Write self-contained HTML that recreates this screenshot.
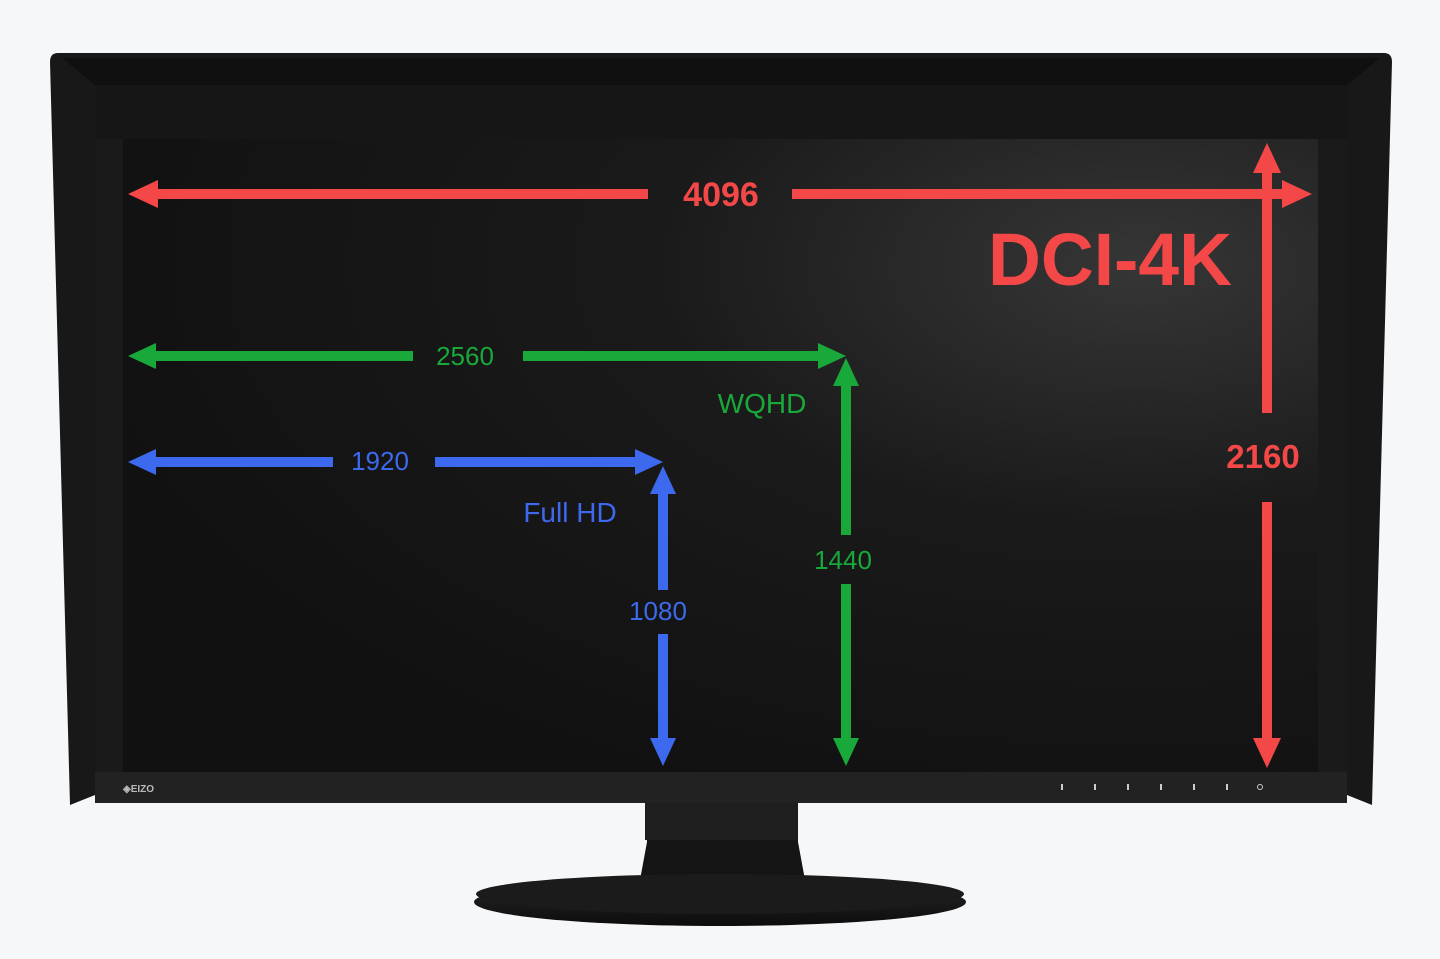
<!DOCTYPE html>
<html><head><meta charset="utf-8"><style>
html,body{margin:0;padding:0;background:#f6f7f9;}
svg{display:block}
text{font-family:"Liberation Sans",sans-serif;}
</style></head><body>
<svg width="1440" height="959" viewBox="0 0 1440 959" xmlns="http://www.w3.org/2000/svg">
<defs>
<radialGradient id="scr" cx="0.85" cy="0.2" r="0.9">
<stop offset="0" stop-color="#363636"/><stop offset="0.45" stop-color="#1a1a1a"/><stop offset="1" stop-color="#111"/>
</radialGradient>
<linearGradient id="base" x1="0" y1="0" x2="0" y2="1">
<stop offset="0" stop-color="#2a2a2a"/><stop offset="1" stop-color="#0c0c0c"/>
</linearGradient>
</defs>
<path d="M645 800 L798 800 L798 842 L805 880 L640 880 L647 842 Z" fill="#141414"/>
<rect x="645" y="800" width="153" height="40" fill="#1e1e1e"/>
<ellipse cx="720" cy="902" rx="246" ry="24" fill="url(#base)"/>
<ellipse cx="720" cy="894" rx="244" ry="20" fill="#1b1b1b"/>
<path d="M58 53 L1384 53 Q1392 53 1392 62 L1372 805 L1347 795 L1347 85 L95 85 L95 795 L70 805 L50 62 Q50 53 58 53 Z" fill="#181818"/>
<path d="M62 58 L1380 58 L1347 85 L95 85 Z" fill="#101010"/>
<rect x="95" y="85" width="1252" height="718" fill="#1a1a1a"/>
<rect x="95" y="85" width="1252" height="54" fill="#161616"/>
<rect x="95" y="772" width="1252" height="31" fill="#222"/>
<rect x="123" y="139" width="1195" height="633" fill="url(#scr)"/>
<text x="123" y="792" font-size="10" fill="#bbb" font-weight="bold">◈EIZO</text>
<g fill="#ccc"><rect x="1061" y="784" width="2" height="6"/><rect x="1094" y="784" width="2" height="6"/><rect x="1127" y="784" width="2" height="6"/><rect x="1160" y="784" width="2" height="6"/><rect x="1193" y="784" width="2" height="6"/><rect x="1226" y="784" width="2" height="6"/></g>
<circle cx="1260" cy="787" r="2.5" fill="none" stroke="#ccc" stroke-width="1"/>
<g fill="#f44848">
<rect x="150" y="189" width="498" height="10"/><polygon points="128,194 158,180 158,208"/>
<rect x="792" y="189" width="498" height="10"/><polygon points="1312,194 1282,180 1282,208"/>
<rect x="1262" y="170" width="10" height="243"/><polygon points="1267,143 1253,173 1281,173"/>
<rect x="1262" y="502" width="10" height="240"/><polygon points="1267,768 1253,738 1281,738"/>
</g>
<text x="721" y="206" font-size="34" font-weight="bold" fill="#f44848" text-anchor="middle">4096</text>
<text x="1110" y="285" font-size="74" font-weight="bold" fill="#f44848" text-anchor="middle" textLength="244" lengthAdjust="spacingAndGlyphs">DCI-4K</text>
<text x="1263" y="468" font-size="33" font-weight="bold" fill="#f44848" text-anchor="middle">2160</text>
<g fill="#19a83a">
<rect x="150" y="351" width="263" height="10"/><polygon points="128,356 156,343 156,369"/>
<rect x="523" y="351" width="298" height="10"/><polygon points="846,356 818,343 818,369"/>
<rect x="841" y="384" width="10" height="151"/><polygon points="846,358 833,386 859,386"/>
<rect x="841" y="584" width="10" height="158"/><polygon points="846,766 833,738 859,738"/>
</g>
<text x="465" y="365" font-size="26" fill="#19a83a" text-anchor="middle">2560</text>
<text x="762" y="413" font-size="28" fill="#19a83a" text-anchor="middle">WQHD</text>
<text x="843" y="569" font-size="26" fill="#19a83a" text-anchor="middle">1440</text>
<g fill="#3c69ee">
<rect x="150" y="457" width="183" height="10"/><polygon points="128,462 156,449 156,475"/>
<rect x="435" y="457" width="203" height="10"/><polygon points="663,462 635,449 635,475"/>
<rect x="658" y="492" width="10" height="98"/><polygon points="663,466 650,494 676,494"/>
<rect x="658" y="634" width="10" height="108"/><polygon points="663,766 650,738 676,738"/>
</g>
<text x="380" y="470" font-size="26" fill="#3c69ee" text-anchor="middle">1920</text>
<text x="570" y="522" font-size="28" fill="#3c69ee" text-anchor="middle">Full HD</text>
<text x="658" y="620" font-size="26" fill="#3c69ee" text-anchor="middle">1080</text>
</svg>
</body></html>
